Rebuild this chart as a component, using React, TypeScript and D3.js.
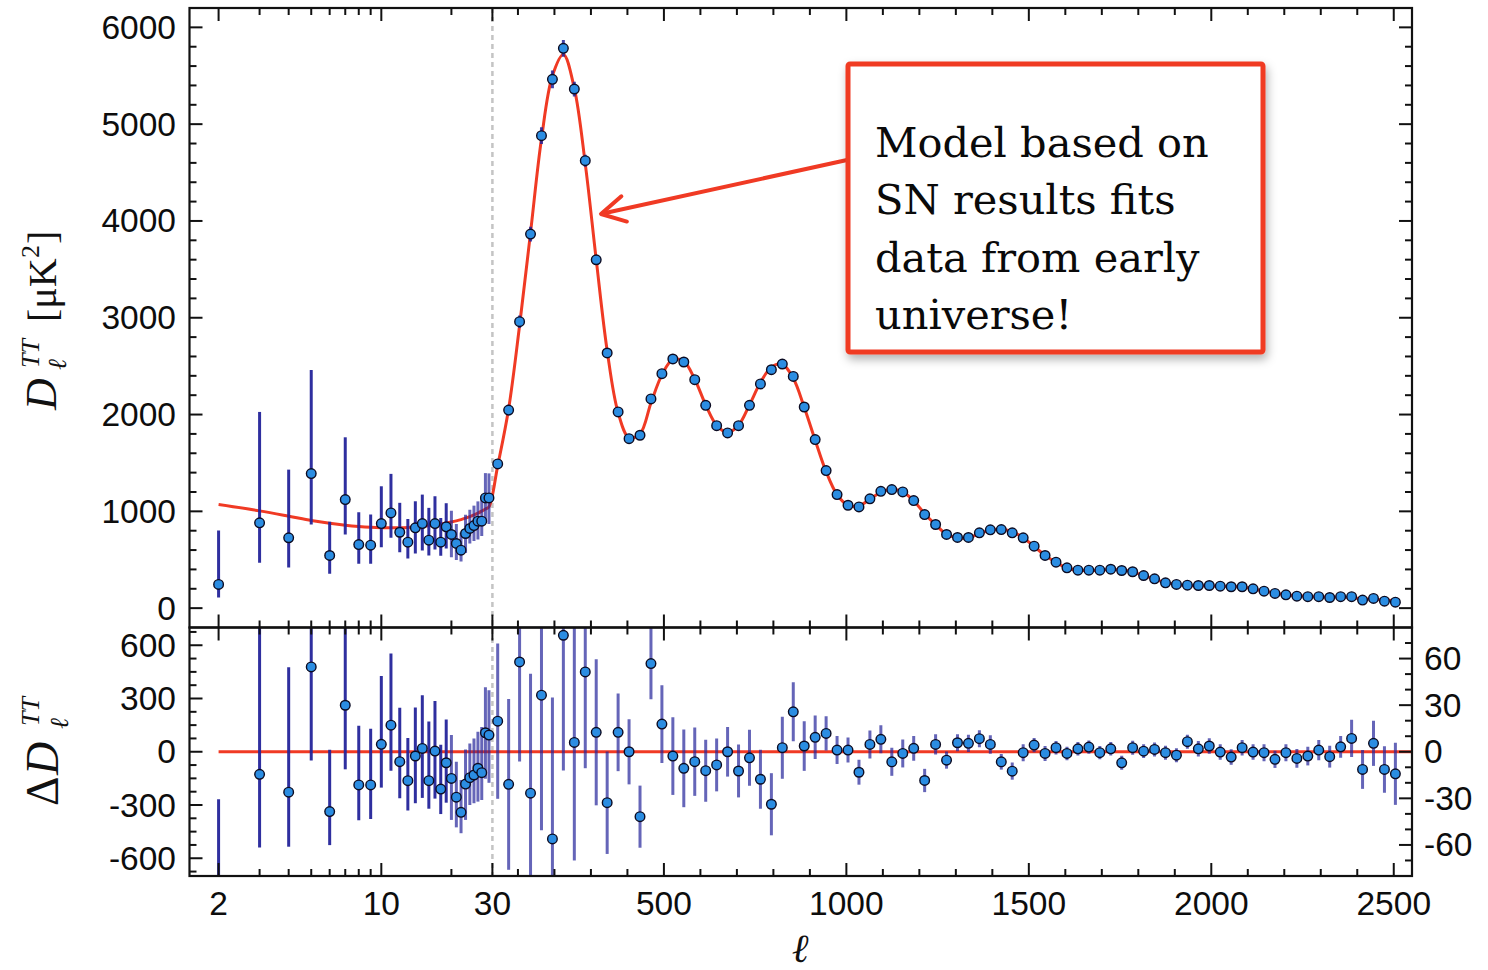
import React from 'react';
import * as d3 from 'd3';

// ---- Low-ℓ (unbinned) TT spectrum, ℓ = 2..29 ----
const lowEll = [2, 3, 4, 5, 6, 7, 8, 9, 10, 11, 12, 13, 14, 15, 16, 17, 18, 19, 20, 21, 22, 23, 24, 25, 26, 27, 28, 29];
const lowDl = [245, 881, 727, 1390, 544, 1122, 657, 650, 874, 984, 784, 681, 830, 874, 702, 874, 681, 840, 761, 668, 599, 771, 823, 853, 898, 898, 1139, 1139];
const lowDlMin = [110, 468, 420, 863, 355, 761, 458, 458, 630, 727, 578, 513, 564, 595, 544, 606, 540, 615, 527, 498, 481, 569, 669, 694, 710, 744, 880, 870];
const lowDlMax = [802, 2027, 1431, 2460, 892, 1765, 991, 967, 1259, 1387, 1088, 922, 1104, 1173, 1036, 1156, 930, 1084, 1005, 868, 781, 966, 1016, 1059, 1103, 1156, 1395, 1392];
const lowModel = [1070, 1005, 950, 905, 876, 856, 843, 835, 831, 830, 831, 834, 839, 845, 852, 860, 869, 879, 890, 902, 915, 930, 946, 963, 982, 1002, 1024, 1047];
const lowResid = [-825, -127, -228, 478, -337, 262, -187, -187, 42, 150, -56, -163, -24, 19, -163, 4, -210, -62, -150, -256, -341, -182, -146, -131, -93, -118, 107, 94];

// ---- High-ℓ spectrum in Δℓ = 30 bins starting at ℓ = 30 ----
const highEll = d3.range(83).map((k) => 44.5 + 30 * k);
const highDl = [
  1490, 2046, 2959, 3864, 4881, 5463, 5783, 5363, 4623, 3599,
  2636, 2027, 1751, 1786, 2161, 2422, 2574, 2543, 2360, 2095,
  1885, 1810, 1885, 2095, 2316, 2463, 2522, 2394, 2078, 1741,
  1421, 1173, 1063, 1046, 1129, 1207, 1225, 1201, 1111, 967,
  864, 761, 730, 730, 778, 809, 812, 778, 727, 640,
  544, 475, 417, 392, 392, 392, 402, 389, 376, 337,
  303, 262, 245, 237, 234, 234, 227, 221, 221, 200,
  175, 152, 138, 124, 118, 118, 110, 118, 118, 83,
  100, 72, 62,
];
const highErr = [
  50, 55, 64, 77, 87, 91, 87, 76, 62, 47,
  33, 25, 21, 20, 23, 25, 25, 25, 22, 20,
  17, 16, 17, 18, 19, 20, 20, 19, 16, 14,
  11, 9, 8, 8, 9, 9, 9, 9, 8, 7.5,
  6.5, 5.5, 5.5, 5.5, 5.5, 6, 5, 5.5, 5.5, 4.6,
  4.8, 4.3, 4.3, 4.3, 4.3, 4.3, 4.3, 4.5, 4.5, 4.5,
  4.5, 4.5, 4.5, 4.5, 5, 5, 5, 5, 5, 5,
  5.5, 5.5, 5.5, 6, 6, 6.5, 7, 7, 12, 12.5,
  14.5, 15, 20,
];
const highModel = [
  1470, 2060, 2920, 3880, 4850, 5500, 5720, 5370, 4590, 3600,
  2660, 2020, 1760, 1800, 2120, 2410, 2570, 2550, 2365, 2100,
  1890, 1815, 1890, 2100, 2330, 2490, 2520, 2375, 2075, 1735,
  1410, 1172, 1062, 1058, 1125, 1198, 1228, 1202, 1110, 975,
  862, 763, 727, 726, 770, 805, 815, 788, 727, 637,
  545, 473, 415, 391, 389, 392, 400, 393, 374, 337,
  301, 263, 247, 231, 232, 230, 227, 224, 219, 200,
  176, 157, 139, 128, 121, 117, 113, 115, 110, 95,
  94, 83, 76,
];
const highResid = [
  19.7, -21, 57.8, -26.7, 36.4, -56.1, 75, 6, 51.4, 12.5,
  -32.8, 12.5, 0, -41.8, 56.8, 17.8, -2.8, -10.7, -6.4, -12.2,
  -8.5, 0, -12.4, -3.9, -17.7, -33.8, 2.6, 25.7, 3.7, 9.3,
  11.8, 1.1, 1.1, -13.2, 4.7, 8.0, -6.5, -1.1, 2.2, -18.5,
  4.7, -5.4, 5.8, 5.4, 8.4, 4.7, -6.5, -12.5, -0.6, 4.3,
  -1.1, 2.6, -1.1, 1.9, 3.0, -0.6, 1.9, -7.1, 2.6, 0.4,
  1.5, -0.6, -2.2, 6.5, 1.9, 3.7, -0.2, -3.4, 2.6, -0.2,
  -0.6, -4.9, -0.6, -4.3, -2.8, 1.1, -3.2, 3.2, 8.6, -11.4,
  5.4, -11.4, -14.2,
];

// ---- Axis ticks ----
const xLabelValues = [2, 10, 30, 500, 1000, 1500, 2000, 2500];
const xLabels = ['2', '10', '30', '500', '1000', '1500', '2000', '2500'];
const xMajorTicks = [2, 10, 30, 500, 1000, 1500, 2000, 2500];
const xMinorTicks = [3, 4, 5, 6, 7, 8, 9, 20, 100, 200, 300, 400, 600, 700, 800, 900, 1100, 1200, 1300, 1400, 1600, 1700, 1800, 1900, 2100, 2200, 2300, 2400];
const topYLabels = [0, 1000, 2000, 3000, 4000, 5000, 6000];
const topYMinor = [200, 400, 600, 800, 1200, 1400, 1600, 1800, 2200, 2400, 2600, 2800, 3200, 3400, 3600, 3800, 4200, 4400, 4600, 4800, 5200, 5400, 5600, 5800];
const resLeftLabels = [-600, -300, 0, 300, 600];
const resLeftMinor = [-675, -525, -450, -375, -225, -150, -75, 75, 150, 225, 375, 450, 525, 675];
const resRightLabels = [-60, -30, 0, 30, 60];
const resRightMinor = [-70, -50, -40, -20, -10, 10, 20, 40, 50, 70];

// ---- Geometry ----
const W = 1488;
const H = 970;
const L = 189.5;
const R = 1412;
const T = 8;
const MID = 627.5;
const B = 876;
const SPLIT = 492.4;

const xLog = d3.scaleLog().domain([1.5, 30]).range([L, SPLIT]);
const xLin = d3.scaleLinear().domain([30, 2550]).range([SPLIT, R]);
const xOf = (l: number) => (l < 30 ? xLog(l) : xLin(l));

const yTop = d3.scaleLinear().domain([-200, 6200]).range([MID, T]);
const yResL = d3.scaleLinear().domain([-700, 700]).range([B, MID]);
const yResR = d3.scaleLinear().domain([-80, 80]).range([B, MID]);

const RED = '#f03a24';
const BAR = '#24249a';
const DOT = '#2b8de2';
const TICK_FONT = '"Liberation Sans", Arial, Helvetica, sans-serif';
const SERIF = '"Liberation Serif", "Times New Roman", serif';

const MAJ = 13;
const MIN = 7;

// error bars for ℓ >= 20 are drawn semi-transparent where they crowd together
const barOpacity = (l: number) => (l < 20 ? 0.95 : 0.7);

function XTicks({ y0, y1 }: { y0: number; y1: number }) {
  const out: React.ReactNode[] = [];
  xMajorTicks.forEach((v, i) => {
    const x = xOf(v);
    out.push(<line key={`a${i}`} x1={x} x2={x} y1={y0} y2={y0 + MAJ} />);
    out.push(<line key={`b${i}`} x1={x} x2={x} y1={y1} y2={y1 - MAJ} />);
  });
  xMinorTicks.forEach((v, i) => {
    const x = xOf(v);
    out.push(<line key={`c${i}`} x1={x} x2={x} y1={y0} y2={y0 + MIN} />);
    out.push(<line key={`d${i}`} x1={x} x2={x} y1={y1} y2={y1 - MIN} />);
  });
  return <g stroke="#111" strokeWidth={2}>{out}</g>;
}

function YTicks({ scale, major, minor, left, right }: { scale: (v: number) => number; major: number[]; minor: number[]; left: boolean; right: boolean }) {
  const out: React.ReactNode[] = [];
  major.forEach((v, i) => {
    const y = scale(v);
    if (left) out.push(<line key={`a${i}`} x1={L} x2={L + MAJ} y1={y} y2={y} />);
    if (right) out.push(<line key={`b${i}`} x1={R} x2={R - MAJ} y1={y} y2={y} />);
  });
  minor.forEach((v, i) => {
    const y = scale(v);
    if (left) out.push(<line key={`c${i}`} x1={L} x2={L + MIN} y1={y} y2={y} />);
    if (right) out.push(<line key={`d${i}`} x1={R} x2={R - MIN} y1={y} y2={y} />);
  });
  return <g stroke="#111" strokeWidth={2}>{out}</g>;
}

export default function App() {
  const modelPts: [number, number][] = [
    ...lowEll.map((l, i) => [l, lowModel[i]] as [number, number]),
    ...highEll.map((l, i) => [l, highModel[i]] as [number, number]),
  ];
  const modelPath = d3
    .line<[number, number]>()
    .x((d) => xOf(d[0]))
    .y((d) => yTop(d[1]))
    .curve(d3.curveCatmullRom.alpha(0.5))(modelPts) || '';

  // arrow geometry
  const ax0 = 847;
  const ay0 = 160;
  const ax1 = 601;
  const ay1 = 214;
  const ang = Math.atan2(ay0 - ay1, ax0 - ax1);
  const headLen = 27;
  const spread = 0.5;
  const h1x = ax1 + headLen * Math.cos(ang - spread);
  const h1y = ay1 + headLen * Math.sin(ang - spread);
  const h2x = ax1 + headLen * Math.cos(ang + spread);
  const h2y = ay1 + headLen * Math.sin(ang + spread);

  return (
    <svg width={W} height={H} style={{ position: 'absolute', left: 0, top: 0, background: '#fff' }}>
      <defs>
        <clipPath id="clipTop">
          <rect x={L} y={T} width={R - L} height={MID - T} />
        </clipPath>
        <clipPath id="clipBot">
          <rect x={L} y={MID} width={R - L} height={B - MID} />
        </clipPath>
        <filter id="boxShadow" x="-10%" y="-10%" width="130%" height="130%">
          <feDropShadow dx="2" dy="5" stdDeviation="5" floodColor="#000" floodOpacity="0.3" />
        </filter>
      </defs>

      {/* ℓ = 30 boundary between log and linear x scales */}
      <line x1={SPLIT} x2={SPLIT} y1={T} y2={B} stroke="#c4c4c4" strokeWidth={2.5} strokeDasharray="5,4" />

      {/* ---------- upper panel ---------- */}
      <g clipPath="url(#clipTop)">
        <path d={modelPath} fill="none" stroke={RED} strokeWidth={3} />
        <g stroke={BAR} strokeWidth={3}>
          {lowEll.map((l, i) => (
            <line key={`le${i}`} strokeOpacity={barOpacity(l)} x1={xOf(l)} x2={xOf(l)} y1={yTop(lowDlMin[i])} y2={yTop(lowDlMax[i])} />
          ))}
          {highEll.map((l, i) => (
            <line key={`he${i}`} strokeOpacity={0.85} x1={xOf(l)} x2={xOf(l)} y1={yTop(highDl[i] - highErr[i])} y2={yTop(highDl[i] + highErr[i])} />
          ))}
        </g>
        <g fill={DOT} stroke="#0b0b22" strokeWidth={1.4}>
          {lowEll.map((l, i) => (
            <circle key={`lp${i}`} cx={xOf(l)} cy={yTop(lowDl[i])} r={4.8} />
          ))}
          {highEll.map((l, i) => (
            <circle key={`hp${i}`} cx={xOf(l)} cy={yTop(highDl[i])} r={4.8} />
          ))}
        </g>
      </g>

      {/* ---------- residual panel ---------- */}
      <g clipPath="url(#clipBot)">
        <line x1={xOf(2)} x2={R} y1={yResL(0)} y2={yResL(0)} stroke={RED} strokeWidth={3} />
        <g stroke={BAR} strokeWidth={3}>
          {lowEll.map((l, i) => (
            <line
              key={`lre${i}`}
              strokeOpacity={barOpacity(l)}
              x1={xOf(l)}
              x2={xOf(l)}
              y1={yResL(lowResid[i] - (lowDl[i] - lowDlMin[i]))}
              y2={yResL(lowResid[i] + (lowDlMax[i] - lowDl[i]))}
            />
          ))}
          {highEll.map((l, i) => (
            <line
              key={`hre${i}`}
              strokeOpacity={0.7}
              x1={xOf(l)}
              x2={xOf(l)}
              y1={yResR(highResid[i] - highErr[i])}
              y2={yResR(highResid[i] + highErr[i])}
            />
          ))}
        </g>
        <g fill={DOT} stroke="#0b0b22" strokeWidth={1.4}>
          {lowEll.map((l, i) => (
            <circle key={`lrp${i}`} cx={xOf(l)} cy={yResL(lowResid[i])} r={4.8} />
          ))}
          {highEll.map((l, i) => (
            <circle key={`hrp${i}`} cx={xOf(l)} cy={yResR(highResid[i])} r={4.8} />
          ))}
        </g>
      </g>

      {/* ticks */}
      <XTicks y0={T} y1={MID} />
      <XTicks y0={MID} y1={B} />
      <YTicks scale={yTop} major={topYLabels} minor={topYMinor} left right />
      <YTicks scale={yResL} major={resLeftLabels} minor={resLeftMinor} left right={false} />
      <YTicks scale={yResR} major={resRightLabels} minor={resRightMinor} left={false} right />

      {/* frames */}
      <g fill="none" stroke="#111" strokeWidth={2.2}>
        <rect x={L} y={T} width={R - L} height={MID - T} />
        <rect x={L} y={MID} width={R - L} height={B - MID} />
      </g>

      {/* tick labels */}
      <g fontFamily={TICK_FONT} fontSize={33.5} fill="#0d0d0d">
        {topYLabels.map((v) => (
          <text key={`ty${v}`} x={176} y={yTop(v)} textAnchor="end" dominantBaseline="central">
            {v}
          </text>
        ))}
        {resLeftLabels.map((v) => (
          <text key={`rl${v}`} x={176} y={yResL(v)} textAnchor="end" dominantBaseline="central">
            {v}
          </text>
        ))}
        {resRightLabels.map((v) => (
          <text key={`rr${v}`} x={1424} y={yResR(v)} textAnchor="start" dominantBaseline="central">
            {v}
          </text>
        ))}
        {xLabelValues.map((v, i) => (
          <text key={`xl${v}`} x={xOf(v)} y={915} textAnchor="middle">
            {xLabels[i]}
          </text>
        ))}
      </g>

      {/* axis titles */}
      <text x={800} y={962} textAnchor="middle" fontFamily={SERIF} fontStyle="italic" fontSize={40} fill="#111">
        ℓ
      </text>
      <g transform="translate(56,410) rotate(-90)" fontFamily={SERIF} fill="#111">
        <text x={0} y={0} fontSize={44} fontStyle="italic">D</text>
        <text x={42} y={-17} fontSize={26} fontStyle="italic">TT</text>
        <text x={40} y={10} fontSize={26} fontStyle="italic">ℓ</text>
        <text x={88} y={0} fontSize={40}>[μK</text>
        <text x={152} y={-17} fontSize={26}>2</text>
        <text x={166} y={0} fontSize={40}>]</text>
      </g>
      <g transform="translate(58,806) rotate(-90)" fontFamily={SERIF} fill="#111">
        <text x={0} y={0} fontSize={46}>Δ</text>
        <text x={31} y={0} fontSize={46} fontStyle="italic">D</text>
        <text x={80} y={-19} fontSize={26} fontStyle="italic">TT</text>
        <text x={77} y={10} fontSize={26} fontStyle="italic">ℓ</text>
      </g>

      {/* annotation */}
      <line x1={ax0} y1={ay0} x2={ax1 + 3} y2={ay1 - 0.7} stroke={RED} strokeWidth={4} strokeLinecap="round" />
      <polyline
        points={`${h1x},${h1y} ${ax1},${ay1} ${h2x},${h2y}`}
        fill="none"
        stroke={RED}
        strokeWidth={4}
        strokeLinecap="round"
        strokeLinejoin="round"
      />
      <rect x={848} y={64} width={415} height={288} fill="#fff" stroke={RED} strokeWidth={5} rx={2} filter="url(#boxShadow)" />
      <g fontFamily={'"DejaVu Serif", Georgia, serif'} fontSize={41.5} fill="#0a0a0a">
        <text x={875} y={157}>Model based on</text>
        <text x={875} y={214}>SN results fits</text>
        <text x={875} y={272}>data from early</text>
        <text x={875} y={329}>universe!</text>
      </g>
    </svg>
  );
}
